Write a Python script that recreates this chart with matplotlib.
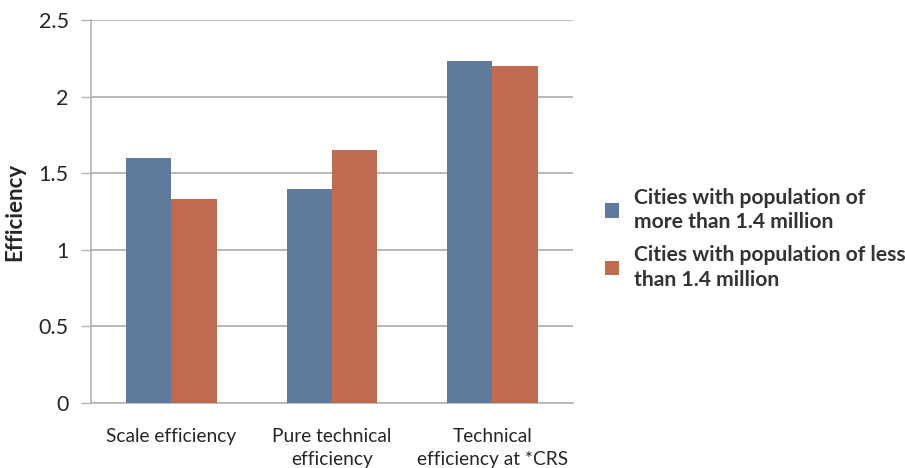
import numpy as np
import matplotlib.pyplot as plt
from matplotlib.patches import Patch

plt.rcParams['font.family'] = ['Lato', 'DejaVu Sans']

# --- data ---
categories = ['Scale efficiency', 'Pure technical\nefficiency', 'Technical\nefficiency at *CRS']
series_names = ['Cities with population of\nmore than 1.4 million',
                'Cities with population of less\nthan 1.4 million']
large_cities = [1.60, 1.40, 2.23]
small_cities = [1.33, 1.65, 2.20]
y_ticks = [0, 0.5, 1, 1.5, 2, 2.5]
y_tick_labels = ['0', '0.5', '1', '1.5', '2', '2.5']

blue = '#5f7a9c'
orange = '#c06b50'
grid_col = '#b3b3b3'
text_col = '#262626'

fig = plt.figure(figsize=(9.05, 4.68), dpi=100)
ax = fig.add_axes([0.1006, 0.139, 0.5320, 0.818])

x = np.arange(len(categories))
w = 0.282
ax.bar(x - w / 2, large_cities, width=w, color=blue, zorder=3)
ax.bar(x + w / 2, small_cities, width=w, color=orange, zorder=3)

ax.set_xlim(-0.5, len(categories) - 0.5)
ax.set_ylim(0, 2.5)
ax.set_yticks(y_ticks)
ax.set_yticklabels(y_tick_labels, fontsize=15.5, color=text_col)
ax.set_xticks(x)
ax.set_xticklabels(categories, fontsize=13.8, color=text_col, linespacing=1.4)

ax.yaxis.grid(True, color=grid_col, linewidth=1.3, zorder=0)
ax.tick_params(axis='y', length=7, width=1, color=grid_col, pad=9)
ax.tick_params(axis='x', length=0, pad=18)

for side in ['top', 'right']:
    ax.spines[side].set_visible(False)
ax.spines['left'].set_color(grid_col)
ax.spines['bottom'].set_color(grid_col)
ax.spines['left'].set_linewidth(1.2)
ax.spines['bottom'].set_linewidth(1.2)

ax.set_ylabel('Efficiency', fontsize=16, fontweight='bold', color=text_col, labelpad=10)

handles = [Patch(facecolor=blue), Patch(facecolor=orange)]
leg = fig.legend(handles, series_names, loc='center left', bbox_to_anchor=(0.648, 0.49),
                 frameon=False, fontsize=15.2, handlelength=0.65, handleheight=0.65,
                 handletextpad=0.7, labelspacing=0.6)
for t in leg.get_texts():
    t.set_fontweight('bold')
    t.set_color('#333333')
    t.set_linespacing(1.3)

fig.savefig('out.png', dpi=100)
